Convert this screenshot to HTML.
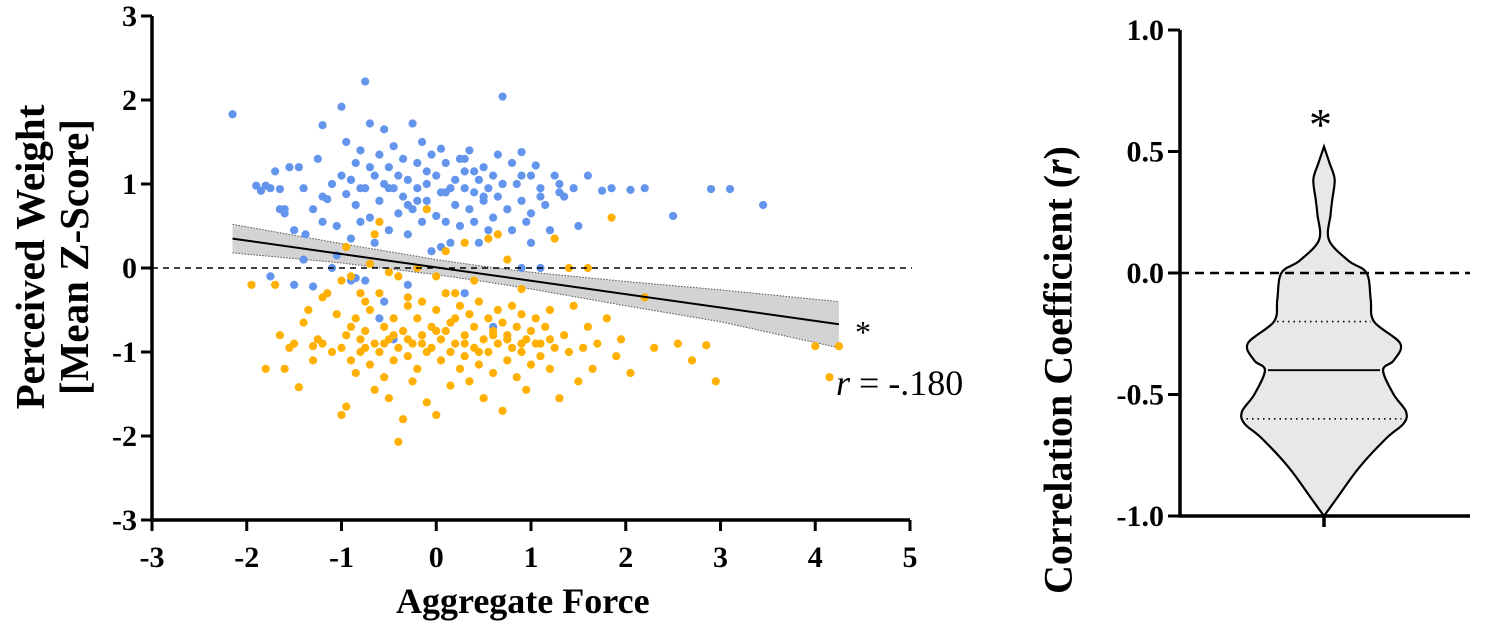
<!DOCTYPE html>
<html><head><meta charset="utf-8"><style>
body{margin:0;background:#fff;}
svg{display:block;font-family:"Liberation Serif",serif;}
svg text.tk{font-size:30px !important;font-weight:bold;}
</style></head><body>
<svg id="chart" width="1499" height="630" viewBox="0 0 1499 630"></svg>
<script>
// ---- scatter data ----
const blueX=[-2.15,-1.9,-1.85,-1.8,-1.75,-1.7,-1.65,-1.6,-1.55,-1.5,-1.45,-1.4,-1.38,-1.3,-1.25,-1.2,-1.2,-1.15,-1.1,-1.05,-1.0,-1.0,-0.95,-0.95,-0.9,-0.9,-0.85,-0.85,-0.8,-0.8,-0.75,-0.75,-0.7,-0.7,-0.65,-0.65,-0.6,-0.6,-0.55,-0.55,-0.5,-0.5,-0.45,-0.45,-0.4,-0.4,-0.35,-0.35,-0.3,-0.3,-0.25,-0.25,-0.2,-0.2,-0.15,-0.15,-0.1,-0.1,-0.05,-0.05,0.0,0.0,0.05,0.05,0.1,0.1,0.15,0.15,0.2,0.2,0.25,0.25,0.3,0.3,0.35,0.35,0.4,0.4,0.45,0.45,0.5,0.5,0.55,0.55,0.6,0.6,0.65,0.65,0.7,0.7,0.75,0.8,0.8,0.85,0.9,0.9,0.95,1.0,1.0,1.05,1.1,1.15,1.2,1.25,1.3,1.35,1.45,1.5,1.6,1.75,1.85,2.05,2.2,2.5,2.9,3.1,3.45,-1.65,-1.5,-1.3,-1.05,-0.75,-0.55,-0.3,0.05,0.3,-0.9,-0.6,-0.45,0.6,0.9,1.1,-1.75,-1.1,-0.85,-1.4,-1.2,-0.9,-0.7,-0.5,-0.3,-0.1,0.1,0.3,0.5,0.7,0.9,1.1,1.3,-1.6,-0.8,-0.2,0.4,1.0];
const blueY=[1.83,0.98,0.92,0.98,0.95,1.15,0.7,0.65,1.2,0.45,1.2,0.95,0.4,0.7,1.3,0.55,1.7,0.82,1.0,0.5,1.92,1.1,0.88,1.5,0.35,1.05,0.75,1.25,1.4,0.55,2.22,0.95,1.72,0.6,1.1,0.3,1.35,0.8,1.65,1.0,0.45,1.2,0.95,1.45,0.65,1.1,1.3,0.85,0.4,1.05,1.72,0.7,1.25,0.95,1.5,0.55,1.0,0.8,1.35,0.2,1.1,0.62,1.42,0.9,0.55,1.25,0.95,0.3,1.05,0.75,1.3,0.5,0.95,1.15,0.7,1.4,0.9,0.55,1.05,0.3,1.2,0.8,0.95,0.45,1.1,0.6,1.35,0.85,2.04,1.0,0.7,1.25,0.45,1.0,0.8,1.38,0.55,1.1,0.3,1.22,0.95,0.75,0.45,1.1,0.9,0.85,0.95,0.5,1.1,0.92,0.95,0.93,0.95,0.62,0.94,0.94,0.75,0.94,-0.2,-0.22,0.15,-0.15,-0.4,-0.2,0.25,-0.3,-0.15,-0.6,-0.85,-0.7,0.0,0.0,-0.1,0.0,-0.12,0.1,0.85,1.05,1.2,0.95,0.75,1.15,0.9,1.3,0.85,1.0,1.1,0.85,1.0,0.7,0.95,0.8,1.15,0.65,0.6];
const orangeX=[-1.95,-1.8,-1.7,-1.65,-1.6,-1.55,-1.5,-1.45,-1.4,-1.35,-1.3,-1.25,-1.2,-1.15,-1.1,-1.05,-1.0,-1.0,-0.95,-0.95,-0.9,-0.9,-0.85,-0.85,-0.8,-0.8,-0.75,-0.75,-0.7,-0.7,-0.65,-0.65,-0.6,-0.6,-0.55,-0.55,-0.5,-0.5,-0.45,-0.45,-0.4,-0.4,-0.35,-0.35,-0.3,-0.3,-0.25,-0.25,-0.2,-0.2,-0.15,-0.15,-0.1,-0.1,-0.05,-0.05,0.0,0.0,0.05,0.05,0.1,0.1,0.15,0.15,0.2,0.2,0.25,0.25,0.3,0.3,0.35,0.35,0.4,0.4,0.45,0.45,0.5,0.5,0.55,0.55,0.6,0.6,0.65,0.65,0.7,0.7,0.75,0.75,0.8,0.8,0.85,0.85,0.9,0.9,0.95,0.95,1.0,1.0,1.05,1.1,1.1,1.15,1.2,1.2,1.25,1.3,1.35,1.4,1.45,1.5,1.55,1.6,1.65,1.7,1.8,1.9,1.95,2.05,2.2,2.3,2.55,2.7,2.85,2.95,4.0,4.15,4.25,-1.3,-0.8,-0.55,-0.3,0.0,0.4,0.75,1.25,1.6,1.85,-0.95,-0.65,-0.2,0.2,0.55,-0.4,0.1,0.9,-1.0,-0.7,-0.1,0.3,1.4,-0.5,0.65,-1.2,-0.9,-0.6,-0.3,0.0,0.3,0.6,0.9,1.2,-0.75,-0.45,-0.15,0.15,0.45,0.75,1.05];
const orangeY=[-0.2,-1.2,-0.2,-0.8,-1.2,-0.95,-0.9,-1.42,-0.65,-0.5,-1.1,-0.85,-0.9,-0.3,-1.0,-0.55,-1.75,-0.95,-0.8,-1.65,-0.7,-1.1,-1.25,-0.6,-0.85,-1.0,-0.4,-0.75,-1.15,-0.5,-0.9,-1.45,-0.3,-1.0,-0.7,-1.3,-0.85,-1.55,-0.6,-1.1,-0.95,-2.07,-0.75,-1.8,-0.45,-1.05,-0.9,-1.35,-0.6,-1.2,-0.8,-0.4,-1.0,-1.6,-0.7,-0.95,-0.5,-1.75,-0.85,-1.1,-0.3,-0.75,-1.0,-1.4,-0.6,-0.9,-0.45,-1.2,-0.8,-1.05,-0.55,-1.35,-0.95,-0.7,-0.4,-1.15,-0.85,-1.55,-0.6,-1.0,-0.75,-1.25,-0.5,-0.9,-1.7,-0.65,-0.8,-1.1,-0.95,-0.45,-1.3,-0.7,-1.0,-0.55,-0.85,-1.45,-0.75,-1.15,-0.6,-0.9,-1.05,-0.7,-1.2,-0.5,-0.95,-1.55,-0.8,-1.0,-0.45,-1.35,-0.95,-0.7,-1.2,-0.9,-0.6,-1.05,-0.85,-1.25,-0.35,-0.95,-0.9,-1.1,-0.92,-1.35,-0.93,-1.3,-0.93,-0.93,-0.3,-0.9,-0.35,-0.1,-0.15,0.1,0.35,0.0,0.6,0.25,0.4,0.0,-0.3,0.35,-0.1,0.2,-0.25,-0.15,0.05,0.7,0.3,0.0,-0.05,0.4,-0.35,-0.1,0.55,-0.85,-0.75,-0.9,-0.8,-0.9,-0.85,-0.95,-0.8,-0.9,-0.65,-1.0,-0.85,-0.9,-0.7,-1.05,-0.8];
const fitX=[-2.15,4.25];
const fitY=[0.35,-0.67];
const ciX=[-2.15,-1,0,0.5,1,2,3,4.25];
const ciLo=[0.18,0.06,-0.08,-0.16,-0.25,-0.45,-0.64,-0.95];
const ciHi=[0.52,0.29,0.1,0.02,-0.05,-0.16,-0.26,-0.40];
const xTicks=[-3,-2,-1,0,1,2,3,4,5];
const yTicks=[-3,-2,-1,0,1,2,3];
// ---- violin data ----
const violinR=[0.52,0.45,0.385,0.3,0.24,0.136,0.05,0,-0.11,-0.2,-0.29,-0.36,-0.4,-0.5,-0.57,-0.62,-0.68,-0.8,-0.93,-1.0];
const violinW=[0,0.07,0.13,0.1,0.08,0.06,0.3,0.52,0.57,0.61,0.93,0.85,0.72,0.85,1.0,0.97,0.76,0.43,0.15,0];
const quartiles=[-0.2,-0.4,-0.6];
const rTicks=[-1.0,-0.5,0.0,0.5,1.0];

const svg=document.getElementById('chart');
const NS='http://www.w3.org/2000/svg';
function mk(t,a,p){const e=document.createElementNS(NS,t);for(const k in a)e.setAttribute(k,a[k]);(p||svg).appendChild(e);return e;}
const X=v=>152+(v+3)*(758/8);
const Y=v=>268-v*84;
let pts=ciX.map((x,i)=>X(x)+','+Y(ciHi[i])).concat(ciX.map((x,i)=>X(x)+','+Y(ciLo[i])).reverse());
let band=mk('polygon',{points:pts.join(' '),fill:'#d3d3d3'});


[ciHi,ciLo].forEach((arr,j)=>{let l=mk('polyline',{points:ciX.map((x,i)=>X(x)+','+Y(arr[i])).join(' '),fill:'none',stroke:'#555','stroke-width':1,'stroke-dasharray':'1.5,1.5'});

});
function dots(xs,ys,col,name){const g=mk('g',{});
xs.forEach((x,i)=>{const c=mk('circle',{cx:X(x),cy:Y(ys[i]),r:4.1,fill:col},g);

});}
dots(blueX,blueY,'#6495ed','blue-series');
dots(orangeX,orangeY,'#ffb000','orange-series');
let fl=mk('line',{x1:X(fitX[0]),y1:Y(fitY[0]),x2:X(fitX[1]),y2:Y(fitY[1]),stroke:'#000','stroke-width':2});


let z=mk('line',{x1:152,y1:Y(0),x2:912,y2:Y(0),stroke:'#000','stroke-width':1.6,'stroke-dasharray':'6,5'});


let ax=mk('path',{d:`M152,${Y(3)} V${Y(-3)} H${X(5)}`,fill:'none',stroke:'#000','stroke-width':3.5});


yTicks.forEach(v=>{mk('line',{x1:141,x2:152,y1:Y(v),y2:Y(v),stroke:'#000','stroke-width':3});
const t=mk('text',{x:137,y:Y(v)+10,'text-anchor':'end',class:'tk',style:'font-size:30px;font-weight:bold'});t.textContent=v;

});
xTicks.forEach(v=>{mk('line',{x1:X(v),x2:X(v),y1:Y(-3),y2:Y(-3)+11,stroke:'#000','stroke-width':3});
const t=mk('text',{x:X(v),y:567,'text-anchor':'middle',class:'tk',style:'font-size:30px;font-weight:bold'});t.textContent=v;

});
const RX=1324, RY=v=>273-v*243, WS=82;
let left=violinR.map((r,i)=>[RX-violinW[i]*WS,RY(r)]), right=violinR.map((r,i)=>[RX+violinW[i]*WS,RY(r)]).reverse();
function smooth(p){let d=`M${p[0][0]},${p[0][1]}`;for(let i=0;i<p.length-1;i++){const p0=p[i-1]||p[i],p1=p[i],p2=p[i+1],p3=p[i+2]||p2;
d+=` C${p1[0]+(p2[0]-p0[0])/6},${p1[1]+(p2[1]-p0[1])/6} ${p2[0]-(p3[0]-p1[0])/6},${p2[1]-(p3[1]-p1[1])/6} ${p2[0]},${p2[1]}`;}return d;}
let vd=smooth(left)+' L'+smooth(right).slice(1)+' Z';
let vp=mk('path',{d:vd,fill:'#e8e8e8',stroke:'#000','stroke-width':2.2});


function widthAt(r){for(let i=0;i<violinR.length-1;i++){if(r<=violinR[i]&&r>=violinR[i+1]){const f=(violinR[i]-r)/(violinR[i]-violinR[i+1]);return violinW[i]+f*(violinW[i+1]-violinW[i]);}}return 0;}
quartiles.forEach((q,i)=>{const w=widthAt(q)*WS-3;const l=mk('line',{x1:RX-w,x2:RX+w,y1:RY(q),y2:RY(q),stroke:'#000','stroke-width':i==1?1.8:1.6,'stroke-dasharray':i==1?'':'1.5,4'});

});
let z2=mk('line',{x1:1180,y1:RY(0),x2:1470,y2:RY(0),stroke:'#000','stroke-width':2.6,'stroke-dasharray':'9,6'});


let ax2=mk('path',{d:`M1180,${RY(1)} V${RY(-1)} H1470 M${RX},${RY(-1)} V${RY(-1)+11}`,fill:'none',stroke:'#000','stroke-width':3.5});


rTicks.forEach(v=>{mk('line',{x1:1168,x2:1180,y1:RY(v),y2:RY(v),stroke:'#000','stroke-width':3});
const t=mk('text',{x:1164,y:RY(v)+10,'text-anchor':'end',class:'tk',style:'font-size:30px;font-weight:bold'});t.textContent=v.toFixed(1);

});
</script>
<div style="position:absolute;left:0;top:0;width:1499px;height:630px;pointer-events:none;font-family:'Liberation Serif',serif;">
<div style="position:absolute;left:396px;top:580px;font-weight:bold;font-size:36px;">Aggregate Force</div>
<div style="position:absolute;left:52px;top:257px;transform:translate(-50%,-50%) rotate(-90deg);font-weight:bold;font-size:41px;line-height:44px;text-align:center;white-space:nowrap;">Perceived Weight<br>[Mean Z-Score]</div>
<div style="position:absolute;left:1058px;top:370px;transform:translate(-50%,-50%) rotate(-90deg);font-weight:bold;font-size:40px;white-space:nowrap;">Correlation Coefficient (<i>r</i>)</div>
<div style="position:absolute;left:855px;top:314px;font-size:32px;">*</div>
<div style="position:absolute;left:836px;top:362px;font-size:36px;"><i>r</i> = -.180</div>
<div style="position:absolute;left:1309px;top:98px;font-size:46px;">*</div>
</div>
</body></html>
